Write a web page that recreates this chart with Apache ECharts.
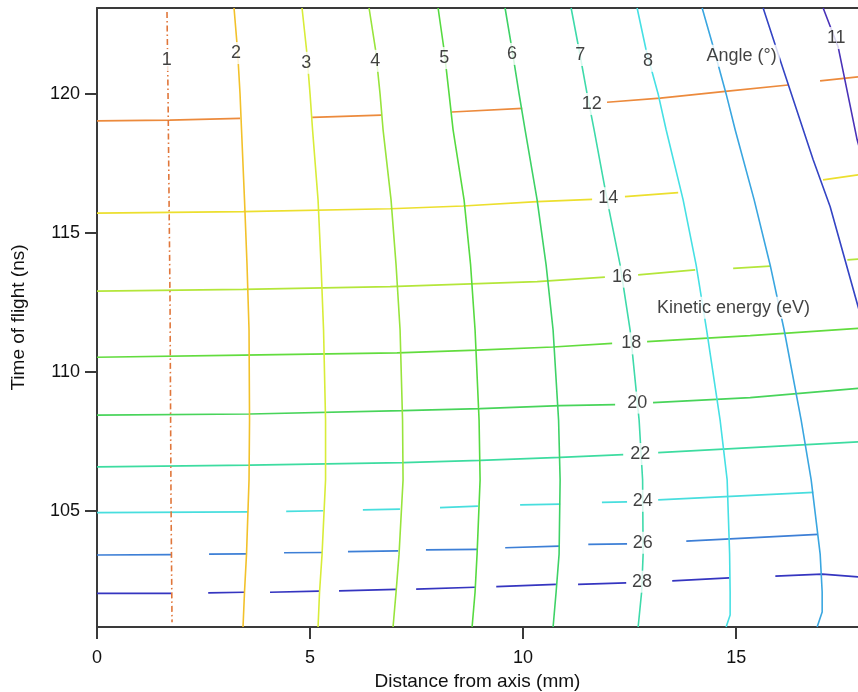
<!DOCTYPE html>
<html><head><meta charset="utf-8">
<script src="https://cdn.jsdelivr.net/npm/echarts@6/dist/echarts.min.js"></script>
<style>html,body{margin:0;padding:0;background:#fff}#c{width:858px;height:692px}</style>
</head><body><div id="c"></div>
<script>
// ---- tick values ----
const xTicks = [0, 5, 10, 15];
const yTicks = [105, 110, 115, 120];

// ---- angle (degrees) iso-lines: [distance mm, time ns] ----
const angleNames = ['1','2','3','4','5','6','7','8','9','10','11'];
const angle1 = [[1.643,122.95],[1.667,120],[1.714,112.59],[1.737,105.4],[1.761,101.0]];
const angle2 = [[3.216,123.09],[3.298,121.58],[3.357,120],[3.392,118.71],[3.462,116.19],[3.521,113.85],[3.568,111.51],[3.580,108.27],[3.568,106.12],[3.509,103.45],[3.462,102.09],[3.427,100.83]];
const angle3 = [[4.812,123.09],[4.918,121.58],[5.0,120],[5.059,118.71],[5.188,116.19],[5.258,113.85],[5.317,111.51],[5.364,108.27],[5.364,106.12],[5.282,103.45],[5.223,102.09],[5.188,100.83]];
const angle4 = [[6.385,123.09],[6.538,121.58],[6.643,120],[6.714,118.71],[6.901,116.19],[7.019,113.85],[7.113,111.51],[7.171,108.27],[7.183,106.12],[7.089,103.45],[7.019,102.09],[6.948,100.83]];
const angle5 = [[8.005,123.09],[8.146,121.58],[8.263,120],[8.357,118.71],[8.615,116.19],[8.768,113.85],[8.873,111.51],[8.967,108.27],[8.991,106.12],[8.920,103.45],[8.873,102.09],[8.803,100.83]];
const angle6 = [[9.577,123.09],[9.742,121.58],[9.906,120],[10.047,118.71],[10.329,116.19],[10.540,113.85],[10.704,111.51],[10.833,108.27],[10.869,106.12],[10.845,103.45],[10.775,102.09],[10.704,100.83]];
const angle7 = [[11.127,123.09],[11.315,121.58],[11.502,120],[11.667,118.71],[11.972,116.19],[12.277,113.85],[12.512,111.51],[12.723,108.27],[12.805,106.12],[12.817,103.45],[12.782,102.09],[12.700,100.83]];
const angle8 = [[12.676,123.09],[12.887,121.58],[13.169,120],[13.357,118.71],[13.756,116.19],[14.061,113.85],[14.308,111.51],[14.624,108.27],[14.789,106.12],[14.847,103.45],[14.859,102.09],[14.859,101.26],[14.765,100.83]];
const angle9 = [[14.202,123.09],[14.484,121.58],[14.765,120],[14.977,118.71],[15.423,116.19],[15.798,113.85],[16.127,111.51],[16.526,108.27],[16.761,106.12],[16.972,103.45],[17.019,102.09],[17.019,101.37],[16.901,100.83]];
const angle10 = [[15.634,123.09],[16.033,121.22],[16.808,117.63],[17.207,115.94],[17.864,112.34],[18.099,111.15]];
const angle11 = [[17.042,123.09],[17.394,121.69],[17.840,118.35],[18.146,116.73]];
const angleLines = [angle1,angle2,angle3,angle4,angle5,angle6,angle7,angle8,angle9,angle10,angle11];

// ---- kinetic energy (eV) iso-lines, as separate drawn segments ----
const energyNames = ['12','14','16','18','20','22','24','26','28'];
const energy12 = [[[0,119.03],[1.71,119.06],[3.36,119.12]],[[5.05,119.16],[6.67,119.24]],[[8.33,119.35],[9.98,119.48]],[[11.97,119.70],[13.22,119.85],[14.86,120.11],[16.22,120.32]],[[16.97,120.47],[17.86,120.61]]];
const energy14 = [[[0,115.71],[3.43,115.77],[6.88,115.87],[8.59,115.97],[10.33,116.13],[11.62,116.21]],[[12.39,116.31],[13.64,116.45]],[[17.04,116.91],[17.86,117.09]]];
const energy16 = [[[0,112.91],[3.43,112.97],[6.88,113.07],[10.33,113.25],[11.92,113.41]],[[12.70,113.49],[14.04,113.67]],[[14.93,113.73],[15.80,113.81]],[[17.61,114.03],[17.86,114.06]]];
const energy18 = [[[0,110.53],[3.43,110.61],[7.04,110.69],[8.92,110.79],[10.70,110.90],[12.09,111.03]],[[12.91,111.09],[15.33,111.31],[17.86,111.57]]];
const energy20 = [[[0,108.45],[3.59,108.49],[7.18,108.61],[8.99,108.68],[10.87,108.79],[12.16,108.83]],[[13.05,108.90],[15.33,109.08],[17.86,109.41]]];
const energy22 = [[[0,106.59],[3.59,106.65],[7.18,106.74],[9.0,106.82],[10.87,106.93],[12.35,107.03]],[[13.17,107.10],[17.86,107.49]]];
const energy24 = [[[0,104.94],[3.54,104.97]],[[4.44,104.99],[5.31,105.01]],[[6.24,105.04],[7.11,105.07]],[[8.05,105.12],[8.94,105.18]],[[9.93,105.22],[10.87,105.25]],[[11.85,105.31],[12.44,105.33]],[[13.17,105.40],[16.81,105.67]]];
const energy26 = [[[0,103.42],[1.76,103.43]],[[2.63,103.45],[3.50,103.46]],[[4.39,103.50],[5.28,103.51]],[[5.89,103.54],[7.07,103.57]],[[7.72,103.60],[8.92,103.62]],[[9.58,103.68],[10.85,103.74]],[[11.53,103.80],[12.44,103.82]],[[13.83,103.92],[16.92,104.16]]];
const energy28 = [[[0,102.04],[1.74,102.04]],[[2.61,102.06],[3.45,102.08]],[[4.06,102.08],[5.21,102.12]],[[5.68,102.13],[7.02,102.18]],[[7.49,102.19],[8.87,102.26]],[[9.37,102.28],[10.77,102.36]],[[11.29,102.36],[12.42,102.42]],[[13.50,102.49],[14.84,102.60]],[[15.92,102.66],[17.02,102.73],[17.86,102.63]]];
const energyLines = [energy12,energy14,energy16,energy18,energy20,energy22,energy24,energy26,energy28];

// ---- inline label anchors (data coordinates) ----
const angleLabelAnchors = [[1.64,121.22,'1'],[3.26,121.47,'2'],[4.91,121.12,'3'],[6.53,121.19,'4'],[8.15,121.29,'5'],[9.74,121.44,'6'],[11.34,121.40,'7'],[12.93,121.19,'8'],[17.35,122.01,'11']];
const energyLabelAnchors = [[11.61,119.64,'12'],[12.0,116.25,'14'],[12.32,113.43,'16'],[12.54,111.03,'18'],[12.68,108.90,'20'],[12.75,107.05,'22'],[12.81,105.37,'24'],[12.81,103.86,'26'],[12.79,102.46,'28']];
const titleAnchors = [[15.13,121.37,'Angle (°)'],[14.94,112.31,'Kinetic energy (eV)']];

// ---- styling ----
const angleColors = ['#e0763a','#f2c12a','#d8ec38','#98e43c','#56da40','#3ed266','#3edaaa','#46e0e4','#3aa6e0','#3444c4','#4a32b8'];
const energyColors = ['#ec8a3c','#ecdf2e','#b4e63a','#62dc3e','#48d45a','#3ddca0','#48dede','#3d7fd6','#3535c0'];
const FONT = 'Liberation Sans, Arial, sans-serif';
const TXT = '#111';

function joinSegments(segs){
  const out = [];
  segs.forEach((s,i)=>{ if(i) out.push([null,null]); s.forEach(p=>out.push(p)); });
  return out;
}

const series = [];
energyLines.forEach((segs,i)=>{
  series.push({type:'line', name:'E'+energyNames[i], data: joinSegments(segs), showSymbol:false, symbol:'none',
    connectNulls:false, smooth:false, lineStyle:{color:energyColors[i], width:1.7}, z:2, silent:true});
});
angleLines.forEach((pts,i)=>{
  series.push({type:'line', name:'A'+angleNames[i], data: pts, showSymbol:false, symbol:'none', smooth:false,
    lineStyle:{color:angleColors[i], width: 1.6, type: i===0 ? [6,3,1.5,3] : 'solid'}, z:3, silent:true});
});
function labelSeries(anchors, size){
  return {type:'scatter', data: anchors.map(a=>({value:[a[0],a[1]], name:a[2]})), symbolSize:1,
    itemStyle:{color:'rgba(0,0,0,0)'}, z:10, silent:true,
    label:{show:true, position:'inside', formatter:p=>p.name, color:TXT, fontFamily:FONT, fontSize:size,
      backgroundColor:'#fff', padding:[2,3]}};
}
series.push(labelSeries(angleLabelAnchors,18));
series.push(labelSeries(energyLabelAnchors,18));
series.push(labelSeries(titleAnchors,18));

const axisLineStyle = {color:'#3a3a3a', width:2};
const option = {
  animation:false,
  backgroundColor:'#fff',
  grid:{left:97, right:0, top:8, bottom:65, containLabel:false, outerBoundsMode:'none'},
  xAxis:[{type:'value', min:0, max:17.86, position:'bottom',
    name:'Distance from axis (mm)', nameLocation:'middle', nameGap:45,
    nameTextStyle:{fontFamily:FONT, fontSize:19, color:TXT},
    axisLine:{show:true, onZero:false, lineStyle:axisLineStyle},
    axisTick:{show:true, length:12, customValues:xTicks, lineStyle:axisLineStyle},
    axisLabel:{customValues:xTicks, margin:22, fontFamily:FONT, fontSize:18, color:TXT},
    splitLine:{show:false}},
   {type:'value', min:0, max:17.86, position:'top',
    axisLine:{show:true, onZero:false, lineStyle:axisLineStyle}, axisTick:{show:false}, axisLabel:{show:false}, splitLine:{show:false}}],
  yAxis:{type:'value', min:100.83, max:123.09,
    name:'Time of flight (ns)', nameLocation:'middle', nameGap:69,
    nameTextStyle:{fontFamily:FONT, fontSize:19, color:TXT},
    axisLine:{show:true, onZero:false, lineStyle:axisLineStyle},
    axisTick:{show:true, length:12, customValues:yTicks, lineStyle:axisLineStyle},
    axisLabel:{customValues:yTicks, margin:17, fontFamily:FONT, fontSize:18, color:TXT},
    splitLine:{show:false}},
  series: series
};
const chart = echarts.init(document.getElementById('c'), null, {renderer:'canvas'});
chart.setOption(option);
</script></body></html>
